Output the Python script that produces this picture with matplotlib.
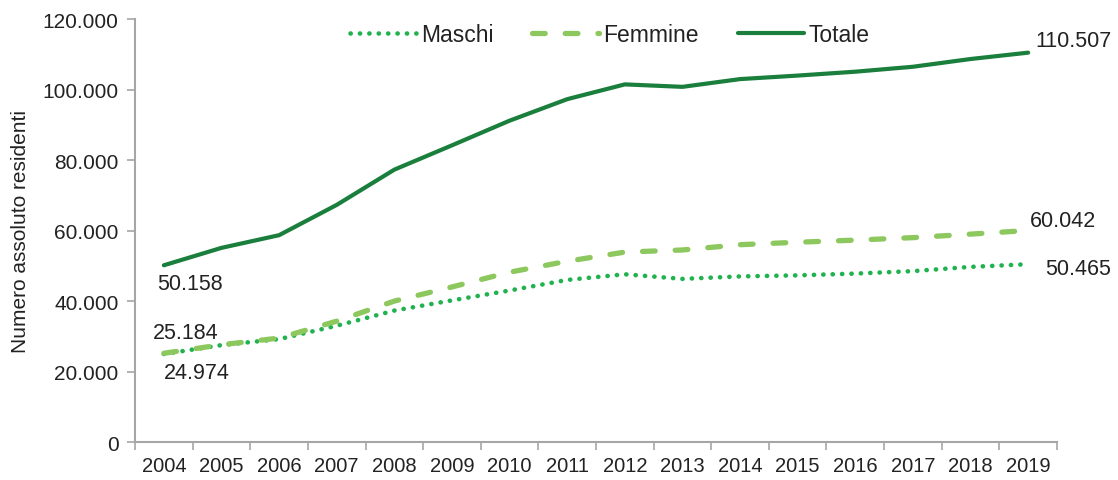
import matplotlib
matplotlib.use("Agg")
import matplotlib.pyplot as plt
from matplotlib.ticker import FuncFormatter, FixedLocator

plt.rcParams['font.family'] = ['Liberation Sans', 'DejaVu Sans']

years = [str(y) for y in range(2004, 2020)]
maschi = [24974, 27500, 29200, 33000, 37300, 40200, 43000, 46000, 47600, 46300,
          47000, 47300, 47800, 48500, 49700, 50465]
femmine = [25184, 27600, 29500, 34300, 40000, 44000, 48200, 51300, 53900, 54500,
           56000, 56700, 57300, 58000, 59000, 60042]
totale = [50158, 55100, 58700, 67300, 77300, 84200, 91200, 97300, 101500, 100800,
          103000, 104000, 105100, 106500, 108700, 110507]

c_tot = '#1a7f3c'
c_fem = '#8dc85f'
c_mas = '#20b24f'
gray = '#a6a6a6'
tcol = '#222222'

fig = plt.figure(figsize=(11.18, 4.81), dpi=100)
ax = fig.add_axes([0.1208, 0.079, 0.8246, 0.879])
x = list(range(len(years)))

ax.plot(x, maschi, color=c_mas, lw=3.3, linestyle=(0, (0.05, 2.0)), dash_capstyle='round',
        solid_capstyle='round', label='Maschi')
ax.plot(x, femmine, color=c_fem, lw=3.8, linestyle=(0, (2.4, 3.8)), dash_capstyle='round',
        label='Femmine')
ax.plot(x, totale, color=c_tot, lw=3, solid_capstyle='round', label='Totale')

ax.set_xlim(-0.5, len(years) - 0.5)
ax.set_ylim(0, 120000)
ax.set_yticks(range(0, 120001, 20000))
ax.yaxis.set_major_formatter(FuncFormatter(lambda v, p: f"{int(v):,}".replace(',', '.')))
ax.xaxis.set_major_locator(FixedLocator([i - 0.5 for i in range(len(years) + 1)]))
ax.xaxis.set_minor_locator(FixedLocator(x))
ax.set_xticklabels([])
ax.set_xticklabels(years, minor=True)
ax.tick_params(axis='x', which='major', length=6, color=gray, width=1.2)
ax.tick_params(axis='x', which='minor', length=0, labelsize=14.5, labelcolor=tcol, pad=10)
ax.tick_params(axis='y', length=6, color=gray, width=1.2, labelsize=15, labelcolor=tcol, pad=6)
for s in ['top', 'right']:
    ax.spines[s].set_visible(False)
for s in ['left', 'bottom']:
    ax.spines[s].set_color(gray)
    ax.spines[s].set_linewidth(1.5)

ax.set_ylabel('Numero assoluto residenti', fontsize=15, color=tcol, labelpad=9)

fmt = lambda v: f"{v:,}".replace(',', '.')
fs = 15.5
ax.annotate(fmt(totale[0]), (x[0], totale[0]), xytext=(-5, -13), textcoords='offset points',
            ha='left', va='center', fontsize=fs, color=tcol)
ax.annotate(fmt(femmine[0]), (x[0], femmine[0]), xytext=(-8, 15), textcoords='offset points',
            ha='left', va='center', fontsize=fs, color=tcol)
ax.annotate(fmt(maschi[0]), (x[0], maschi[0]), xytext=(0, -13), textcoords='offset points',
            ha='left', va='center', fontsize=fs, color=tcol)
ax.annotate(fmt(totale[-1]), (x[-1], totale[-1]), xytext=(5, 9), textcoords='offset points',
            ha='left', va='center', fontsize=fs, color=tcol)
ax.annotate(fmt(femmine[-1]), (x[-1], femmine[-1]), xytext=(1.5, 7), textcoords='offset points',
            ha='left', va='center', fontsize=fs, color=tcol)
ax.annotate(fmt(maschi[-1]), (x[-1], maschi[-1]), xytext=(12, -3), textcoords='offset points',
            ha='left', va='center', fontsize=fs, color=tcol)

leg = ax.legend(loc='upper center', bbox_to_anchor=(0.515, 1.04), ncol=3, frameon=False,
                fontsize=16.5, handlelength=2.9, handletextpad=0.2, columnspacing=1.7)
for t in leg.get_texts():
    t.set_color(tcol)

fig.savefig('out.png', dpi=100)
